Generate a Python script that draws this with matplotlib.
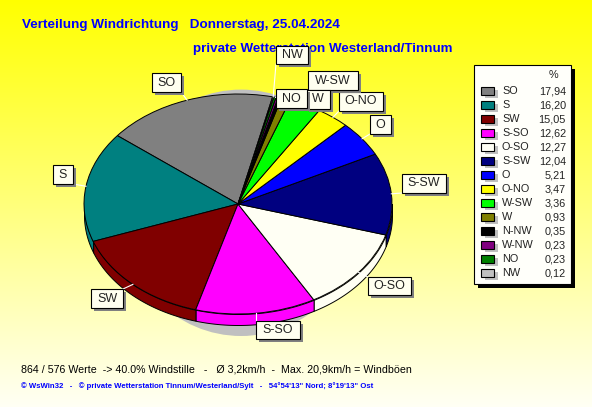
import numpy as np
import matplotlib
matplotlib.use('Agg')
import matplotlib.pyplot as plt
from matplotlib.patches import Ellipse, Rectangle

plt.rcParams['font.family'] = ['Liberation Sans', 'DejaVu Sans']

# Daten
richtung = ['SO', 'S', 'SW', 'S-SO', 'O-SO', 'S-SW', 'O', 'O-NO', 'W-SW', 'W',
            'N-NW', 'W-NW', 'NO', 'NW']
anteil = [17.94, 16.20, 15.05, 12.62, 12.27, 12.04, 5.21, 3.47, 3.36, 0.93,
          0.35, 0.23, 0.23, 0.12]
farben = ['#808080', '#008080', '#800000', '#FF00FF', '#FFFFF4', '#000080', '#0000FF',
          '#FFFF00', '#00FF00', '#808000', '#000000', '#800080', '#008000', '#C0C0C0']

# Beschriftungsfelder: links, oben, rechts, unten (Pixel)
label_box = {'SO': (152, 73, 181, 92), 'S': (53, 165, 73, 184), 'SW': (91, 289, 123, 308),
             'S-SO': (256, 321, 300, 339), 'O-SO': (368, 277, 411, 295),
             'S-SW': (402, 174, 446, 193), 'O': (370, 115, 391, 134),
             'O-NO': (339, 92, 383, 111), 'W-SW': (308, 71, 358, 90),
             'W': (306, 90, 330, 109), 'NO': (276, 89, 307, 108), 'NW': (276, 46, 308, 64)}
label_order = ['SO', 'S', 'SW', 'S-SO', 'O-SO', 'S-SW', 'O', 'O-NO', 'W-SW', 'W', 'NW', 'NO']

W, H = 592, 407
cx, cy, rx, ry = 238, 204, 154, 110
tiefe = 11 / ry
start = 77

fig = plt.figure(figsize=(W / 100, H / 100), dpi=100)

# Hintergrund
bg = fig.add_axes([0, 0, 1, 1], zorder=0)
verlauf = np.ones((H, 2, 3))
verlauf[:, :, 2] = np.linspace(0, 0.96, H)[:, None]
bg.imshow(verlauf, aspect='auto')
bg.axis('off')

# Torte
ax = fig.add_axes([(cx - rx) / W, 1 - (cy + ry) / H, 2 * rx / W, 2 * ry / H], zorder=1)
ax.add_patch(Ellipse((0.02, -0.08), 1.55, 2.24, fc='#C0C0C0', ec='none', clip_on=False, zorder=0))
winkel = start + np.cumsum([0] + anteil) * 360 / sum(anteil)
for i, f in enumerate(farben):
    a, b = winkel[i], winkel[i + 1]
    # nur die vordere Haelfte hat eine sichtbare Wand
    a2, b2 = max(a, 180), min(b, 360)
    if b2 > a2:
        t = np.radians(np.linspace(a2, b2, 60))
        ax.fill_between(np.cos(t), np.sin(t), np.sin(t) - tiefe, color=f, ec='k', lw=0.7,
                        clip_on=False, zorder=1)
wedges, _ = ax.pie(anteil, colors=farben, startangle=start, counterclock=True, radius=1,
                   wedgeprops={'edgecolor': 'k', 'linewidth': 0.7, 'zorder': 2})
ax.set_aspect('auto')
ax.set_xlim(-1, 1)
ax.set_ylim(-1, 1)
ax.axis('off')

# Texte, Legende, Beschriftungen in Pixelkoordinaten
ov = fig.add_axes([0, 0, 1, 1], zorder=2)
ov.set_xlim(0, W)
ov.set_ylim(H, 0)
ov.axis('off')

ov.text(22, 25, 'Verteilung Windrichtung   Donnerstag, 25.04.2024', color='#0000FF',
        fontsize=9.7, fontweight='bold', va='center')
ov.text(193, 49, 'private Wetterstation Westerland/Tinnum', color='#0000FF',
        fontsize=9.65, fontweight='bold', va='center')
ov.text(21, 369, '864 / 576 Werte  -> 40.0% Windstille   -   Ø 3,2km/h  -  Max. 20,9km/h = Windböen',
        color='k', fontsize=7.65, va='center')
ov.text(21, 386, '© WsWin32   -   © private Wetterstation Tinnum/Westerland/Sylt   -   '
        '54°54\'13" Nord; 8°19\'13" Ost', color='#0000FF', fontsize=5.55, fontweight='bold', va='center')

# Legende
ov.add_patch(Rectangle((478, 69), 97, 219, fc='k', ec='none'))
ov.add_patch(Rectangle((474, 65), 97, 219, fc='#FFFFFA', ec='k', lw=0.8))
ov.text(553, 75, '%', fontsize=7.8, ha='center', va='center', color='#222222')
for i, (name, wert, f) in enumerate(zip(richtung, anteil, farben)):
    y = 91 + 14 * i
    ov.add_patch(Rectangle((485, y - 1), 13, 8, fc='#C0C0C0', ec='none'))
    ov.add_patch(Rectangle((481, y - 4), 13, 8, fc=f, ec='k', lw=0.8))
    ov.text(502, y, name, fontsize=7.8, va='center', color='#222222')
    ov.text(566, y, f'{wert:.2f}'.replace('.', ','), fontsize=7.8, va='center', ha='right',
            color='#222222')

# Beschriftungsfelder mit Hilfslinie
for name in label_order:
    x0, y0, x1, y1 = label_box[name]
    i = richtung.index(name)
    mitte = np.radians((winkel[i] + winkel[i + 1]) / 2)
    px, py = cx + rx * np.cos(mitte), cy - ry * np.sin(mitte)
    ov.plot([px, np.clip(px, x0, x1)], [py, np.clip(py, y0, y1)], color='white', lw=0.8, zorder=3)
for name in label_order:
    x0, y0, x1, y1 = label_box[name]
    ov.add_patch(Rectangle((x0 + 3, y0 + 3), x1 - x0, y1 - y0, fc='#808080', ec='none', zorder=4))
    ov.add_patch(Rectangle((x0, y0), x1 - x0, y1 - y0, fc='#FFFFF0', ec='k', lw=0.8, zorder=4))
    ov.text((x0 + x1) / 2, (y0 + y1) / 2, name, fontsize=9, ha='center', va='center',
            color='#222222', zorder=5)

fig.savefig('out.png', dpi=100)
